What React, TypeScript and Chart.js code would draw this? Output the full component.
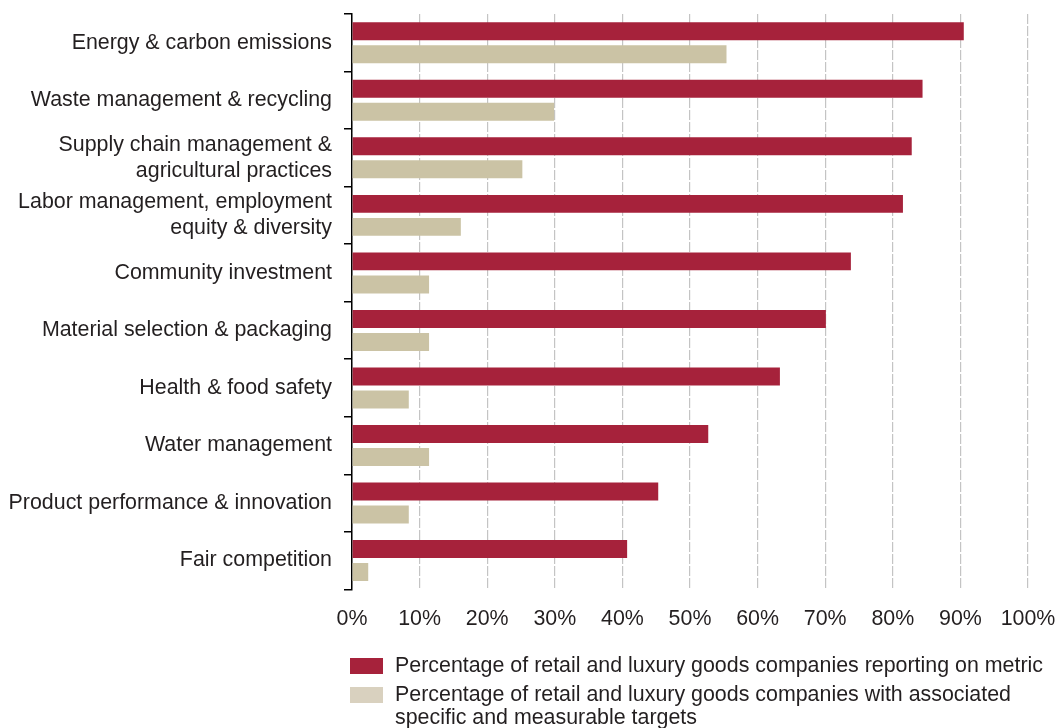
import React, { useEffect, useRef } from "react";
import { Chart, registerables } from "chart.js";

Chart.register(...registerables);

const categories: (string | string[])[] = [
  "Energy & carbon emissions",
  "Waste management & recycling",
  ["Supply chain management &", "agricultural practices"],
  ["Labor management, employment", "equity & diversity"],
  "Community investment",
  "Material selection & packaging",
  "Health & food safety",
  "Water management",
  "Product performance & innovation",
  "Fair competition",
];

const reportingValues = [90.5, 84.4, 82.8, 81.5, 73.8, 70.1, 63.3, 52.7, 45.3, 40.7];
const targetValues = [55.4, 29.9, 25.2, 16.1, 11.4, 11.4, 8.4, 11.4, 8.4, 2.4];

const xTicks = [0, 10, 20, 30, 40, 50, 60, 70, 80, 90, 100];

const legendLines1 = ["Percentage of retail and luxury goods companies reporting on metric"];
const legendLines2 = [
  "Percentage of retail and luxury goods companies with associated",
  "specific and measurable targets",
];

const RED = "#A6223B";
const TAN = "#CBC3A5";
const TAN_LEGEND = "#D9D1BF";
const TEXT = "#231F20";
const FONT = "'Liberation Sans', Arial, sans-serif";
const FSIZE = 21.4;

const legendPlugin = {
  id: "customLegend",
  afterDraw(chart: any) {
    const ctx = chart.ctx;
    const left = chart.chartArea.left - 2;
    ctx.save();
    ctx.font = `normal ${FSIZE}px ${FONT}`;
    ctx.textBaseline = "middle";
    ctx.textAlign = "left";
    const items = [
      { color: RED, lines: legendLines1, y: 666 },
      { color: TAN_LEGEND, lines: legendLines2, y: 695 },
    ];
    for (const it of items) {
      ctx.fillStyle = it.color;
      ctx.fillRect(left, it.y - 8, 33, 16);
      ctx.fillStyle = TEXT;
      it.lines.forEach((l, i) => ctx.fillText(l, left + 45, it.y + i * 23));
    }
    ctx.restore();
  },
};

export default function App() {
  const ref = useRef<HTMLCanvasElement>(null);
  useEffect(() => {
    document.body.style.margin = "0";
    const chart = new Chart(ref.current!, {
      type: "bar",
      data: {
        labels: categories as any,
        datasets: [
          {
            label: legendLines1[0],
            data: reportingValues,
            backgroundColor: RED,
            categoryPercentage: 0.8,
            barPercentage: 0.78,
          },
          {
            label: legendLines2.join(" "),
            data: targetValues,
            backgroundColor: TAN,
            categoryPercentage: 0.8,
            barPercentage: 0.78,
          },
        ],
      },
      options: {
        indexAxis: "y",
        animation: false,
        responsive: false,
        layout: { padding: { top: 14, right: 29, bottom: 79, left: 0 } },
        plugins: {
          legend: { display: false },
          tooltip: { enabled: false },
        },
        scales: {
          x: {
            min: 0,
            max: 100,
            afterBuildTicks: (scale: any) => {
              scale.ticks = xTicks.map((v) => ({ value: v }));
            },
            afterFit: (scale: any) => {
              scale.paddingRight = 0;
              scale.paddingLeft = 0;
            },
            ticks: {
              callback: (v: any) => `${v}%`,
              font: { family: FONT, size: FSIZE },
              color: TEXT,
              padding: 17,
              maxRotation: 0,
            },
            grid: {
              color: "#C4C4C4",
              lineWidth: 1.2,
              drawTicks: false,
            },
            border: { display: false, dash: [10, 2] },
          },
          y: {
            ticks: {
              font: { family: FONT, size: FSIZE },
              color: TEXT,
              padding: 12,
              crossAlign: "near",
            },
            grid: {
              offset: true,
              drawOnChartArea: false,
              drawTicks: true,
              tickLength: 8,
              color: "#000",
              lineWidth: 1.5,
            },
            border: { display: true, color: "#000", width: 1.5 },
            afterFit: (scale: any) => {
              scale.width = 352;
              scale.paddingTop = 0;
              scale.paddingBottom = 0;
            },
          },
        },
      },
      plugins: [legendPlugin],
    } as any);
    return () => chart.destroy();
  }, []);
  return (
    <div style={{ width: 1057, height: 728 }}>
      <canvas ref={ref} width={1057} height={728} style={{ display: "block" }} />
    </div>
  );
}
